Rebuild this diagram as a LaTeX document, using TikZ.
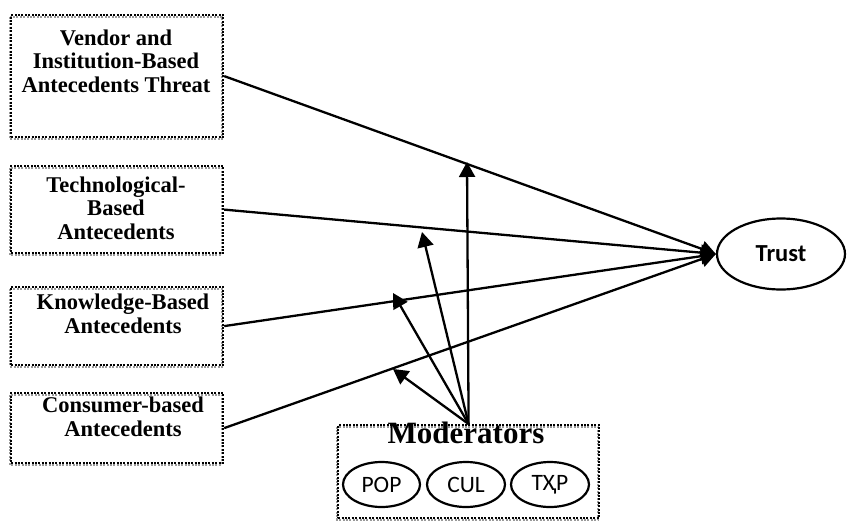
\documentclass[tikz,border=0pt]{standalone}
\usepackage{fontspec}
\setmainfont{Liberation Serif}
\newfontfamily\calib{Carlito}
\usetikzlibrary{arrows.meta,shapes.geometric}

\tikzset{
  framebox/.style={draw=black, line width=2.2pt, dash pattern=on 2pt off 1.4pt, inner sep=0pt, anchor=north west},
  frameshadow/.style={draw=black!40, line width=2pt, dash pattern=on 2pt off 1.4pt},
  boxtext/.style={align=center, inner sep=0pt, anchor=base, font=\fontsize{22.5}{23.5}\selectfont\bfseries},
  oval/.style={ellipse, draw, line width=2.2pt, inner sep=0pt},
  link/.style={line width=2.3pt, -{Triangle[length=15pt,width=16pt]}},
}

\begin{document}
\begin{tikzpicture}[x=1pt,y=-1pt]
  \useasboundingbox (0,0) rectangle (847,520);

  % grey shadows of the dotted frames
  \foreach \xa/\ya/\xb/\yb in {10/14/222/136, 10/165/222/252, 10/286/222/364, 10/392/222/462, 337/424/598/517}
    \draw[frameshadow] (\xa,\ya+2.5) rectangle (\xb,\yb+2.5);

  % antecedent boxes
  \node[framebox, minimum width=212pt, minimum height=122pt] (b1) at (10,14) {};
  \node[framebox, minimum width=212pt, minimum height=87pt]  (b2) at (10,165) {};
  \node[framebox, minimum width=212pt, minimum height=78pt]  (b3) at (10,286) {};
  \node[framebox, minimum width=212pt, minimum height=70pt]  (b4) at (10,392) {};

  % labels, placed by the baseline of their last line
  \node[boxtext] (t1) at (116,92)  {Vendor and\\Institution-Based\\Antecedents Threat};
  \node[boxtext] (t2) at (116,239) {Technological-\\Based\\Antecedents};
  \node[boxtext] (t3) at (123,333) {Knowledge-Based\\Antecedents};
  \node[boxtext] (t4) at (123,436) {Consumer-based\\Antecedents};

  % outcome
  \node[oval, minimum width=128pt, minimum height=71pt] (trust) at (781,254)
    {\calib\fontsize{24.5}{26}\selectfont\bfseries Trust};

  % moderators box
  \node[framebox, minimum width=261pt, minimum height=93pt] (mod) at (337,424) {};
  \node[inner sep=0pt, anchor=base, font=\fontsize{31}{34}\selectfont\bfseries] (modt) at (466,443) {Moderators};
  \node[oval, minimum width=77pt, minimum height=45pt] (pop) at (381.5,484.5) {\calib\fontsize{23.5}{26}\selectfont POP};
  \node[oval, minimum width=78pt, minimum height=45pt] (cul) at (466,484.5) {\calib\fontsize{23.5}{26}\selectfont CUL};
  \node[oval, minimum width=78pt, minimum height=45pt] (typ) at (550,484.5) {\calib\fontsize{23.5}{26}\selectfont TҲP};

  % direct effects on trust
  \foreach \b in {b1,b2,b3,b4}
    \draw[link] (\b.east) -- (trust.west);

  % moderating effects
  \coordinate (m1) at (467,162);
  \coordinate (m2) at (422,232);
  \coordinate (m3) at (393,293);
  \coordinate (m4) at (393,369);
  \foreach \m in {m1,m2,m3,m4}
    \draw[link] (mod.north) -- (\m);
\end{tikzpicture}
\end{document}
